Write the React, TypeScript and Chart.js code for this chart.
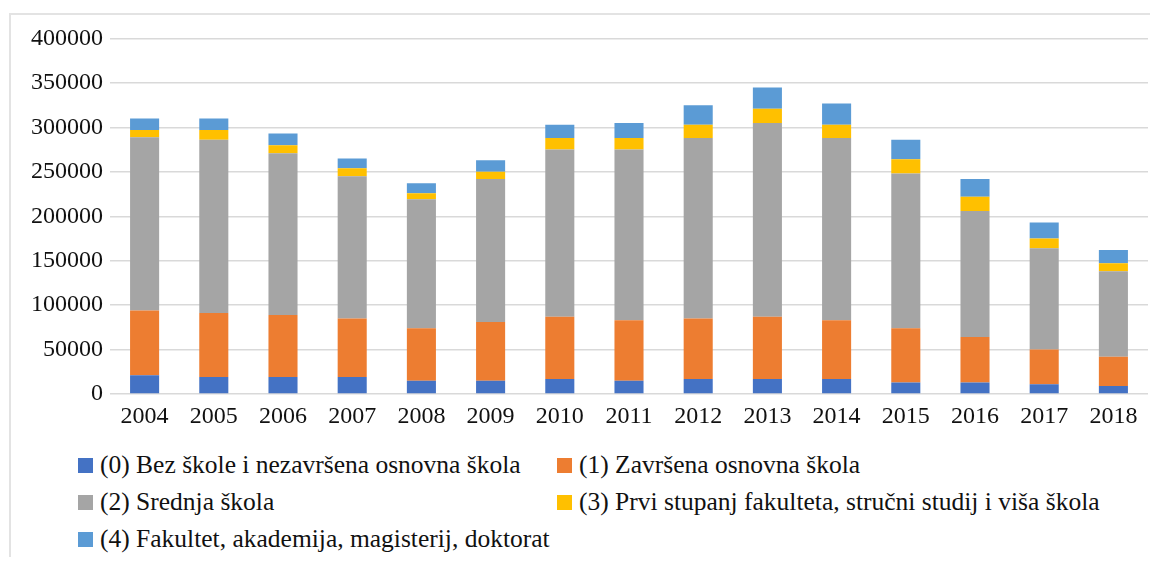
import React, { useEffect, useRef } from "react";
import { Chart, registerables } from "chart.js";

Chart.register(...registerables);

const years = ["2004", "2005", "2006", "2007", "2008", "2009", "2010", "2011", "2012", "2013", "2014", "2015", "2016", "2017", "2018"];
const bezSkole = [21000, 19000, 19000, 19000, 15000, 15000, 17000, 15000, 17000, 17000, 17000, 13000, 13000, 11000, 9000];
const osnovna = [73000, 72000, 70000, 66000, 59000, 66000, 70000, 68000, 68000, 70000, 66000, 61000, 51000, 39000, 33000];
const srednja = [195000, 195000, 182000, 160000, 145000, 161000, 188000, 192000, 203000, 218000, 205000, 174000, 142000, 114000, 96000];
const prviStupanj = [8000, 11000, 9000, 9000, 7000, 8000, 13000, 13000, 15000, 16000, 15000, 16000, 16000, 11000, 9000];
const fakultet = [13000, 13000, 13000, 11000, 11000, 13000, 15000, 17000, 22000, 24000, 24000, 22000, 20000, 18000, 15000];

const seriesNames = [
  "(0) Bez škole i nezavršena osnovna škola",
  "(1) Završena osnovna škola",
  "(2) Srednja škola",
  "(3) Prvi stupanj fakulteta, stručni studij i viša škola",
  "(4) Fakultet, akademija, magisterij, doktorat",
];
const seriesColors = ["#4472C4", "#ED7D31", "#A5A5A5", "#FFC000", "#5B9BD5"];
const seriesData = [bezSkole, osnovna, srednja, prviStupanj, fakultet];

const FONT = "'Liberation Serif', serif";
const TEXT = "#111111";

export default function App() {
  const ref = useRef<HTMLCanvasElement>(null);

  useEffect(() => {
    if (!ref.current) return;
    const chart = new Chart(ref.current, {
      type: "bar",
      data: {
        labels: years,
        datasets: seriesData.map((d, i) => ({
          label: seriesNames[i],
          data: d,
          backgroundColor: seriesColors[i],
          borderWidth: 0,
          categoryPercentage: 1,
          barPercentage: 0.42,
        })),
      },
      options: {
        animation: false,
        responsive: false,
        layout: { padding: { top: 30.5, right: 2, left: 0, bottom: 0 } },
        plugins: { legend: { display: false }, tooltip: { enabled: false } },
        scales: {
          x: {
            stacked: true,
            grid: { display: false, drawTicks: false },
            border: { display: false },
            ticks: { color: TEXT, font: { family: FONT, size: 24 }, padding: 8, maxRotation: 0 },
            afterFit: (s: any) => { s.height = 44; },
          },
          y: {
            stacked: true,
            min: 0,
            max: 400000,
            grid: { color: "#d9d9d9", lineWidth: 1.5, drawTicks: false },
            border: { display: false },
            ticks: {
              stepSize: 50000,
              color: TEXT,
              font: { family: FONT, size: 24 },
              padding: 7,
              callback: (v: any) => String(v),
            },
            afterFit: (s: any) => { s.width = 102; },
          },
        },
      },
    });
    return () => chart.destroy();
  }, []);

  const legendPos = [
    { left: 70, top: 457 },
    { left: 549, top: 457 },
    { left: 70, top: 494 },
    { left: 549, top: 494 },
    { left: 70, top: 531 },
  ];

  return (
    <div style={{ position: "relative", width: 1142, height: 549, overflow: "hidden", background: "#fff" }}>
      <div style={{ position: "absolute", left: 1, top: 5, width: 1300, height: 800, border: "2px solid #e3e3e3", boxSizing: "border-box" }} />
      <canvas ref={ref} width={1142} height={430} style={{ position: "absolute", left: 0, top: 0 }} />
      {seriesNames.map((n, i) => (
        <div
          key={n}
          style={{
            position: "absolute",
            left: legendPos[i].left,
            top: legendPos[i].top - 15,
            height: 30,
            display: "flex",
            alignItems: "center",
            whiteSpace: "nowrap",
            fontFamily: FONT,
            fontSize: 25.5,
            color: TEXT,
          }}
        >
          <span style={{ display: "inline-block", width: 15, height: 15, background: seriesColors[i], marginRight: 7 }} />
          <span>{n}</span>
        </div>
      ))}
    </div>
  );
}
